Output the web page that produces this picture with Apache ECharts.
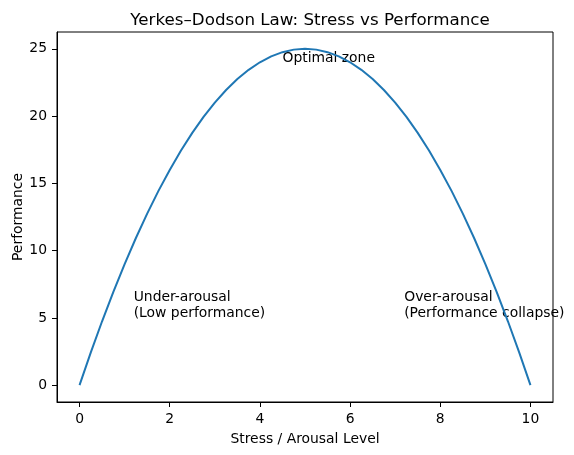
<!DOCTYPE html>
<html>
<head>
<meta charset="utf-8">
<script src="https://cdn.jsdelivr.net/npm/echarts@6/dist/echarts.min.js"></script>
<style>
  html, body { margin: 0; padding: 0; background: #fff; }
  #chart { width: 574px; height: 455px; }
</style>
</head>
<body>
<div id="chart"></div>
<script>
// stress / arousal level
var stress = [0, 0.25, 0.5, 0.75, 1, 1.25, 1.5, 1.75, 2, 2.25, 2.5, 2.75, 3, 3.25, 3.5, 3.75, 4, 4.25, 4.5, 4.75,
    5, 5.25, 5.5, 5.75, 6, 6.25, 6.5, 6.75, 7, 7.25, 7.5, 7.75, 8, 8.25, 8.5, 8.75, 9, 9.25, 9.5, 9.75, 10];
// performance
var performance = [0, 2.44, 4.75, 6.94, 9, 10.94, 12.75, 14.44, 16, 17.44, 18.75, 19.94, 21, 21.94, 22.75, 23.44, 24, 24.44, 24.75, 24.94,
    25, 24.94, 24.75, 24.44, 24, 23.44, 22.75, 21.94, 21, 19.94, 18.75, 17.44, 16, 14.44, 12.75, 10.94, 9, 6.94, 4.75, 2.44, 0];
var xTicks = [0, 2, 4, 6, 8, 10];
var yTicks = [0, 5, 10, 15, 20, 25];
// text notes
var noteX = [4.5, 1.2, 7.2];
var noteY = [24, 5, 5];
var noteText = ['Optimal zone', 'Under-arousal\n(Low performance)', 'Over-arousal\n(Performance collapse)'];

var font = 'DejaVu Sans';
var chart = echarts.init(document.getElementById('chart'));

var curve = [];
for (var i = 0; i < stress.length; i++) {
    curve.push([stress[i], performance[i]]);
}
var notes = [];
for (var j = 0; j < noteX.length; j++) {
    notes.push({ value: [noteX[j], noteY[j]], name: noteText[j] });
}

var option = {
    animation: false,
    backgroundColor: '#fff',
    title: {
        text: 'Yerkes\u2013Dodson Law: Stress vs Performance',
        left: 305,
        textAlign: 'center',
        top: 7,
        textStyle: { fontFamily: font, fontSize: 16.7, fontWeight: 'normal', color: '#000' }
    },
    grid: {
        left: 57, right: 21, top: 32, bottom: 53,
        outerBoundsMode: 'none',
        containLabel: false,
        show: true, borderColor: '#000', borderWidth: 1
    },
    xAxis: {
        type: 'value',
        min: -0.5, max: 10.5,
        name: 'Stress / Arousal Level',
        nameLocation: 'middle',
        nameGap: 30,
        nameMoveOverlap: false,
        nameTextStyle: { fontFamily: font, fontSize: 13.9, color: '#000' },
        axisLine: { show: true, onZero: false, lineStyle: { color: '#000', width: 1 } },
        axisTick: { show: true, length: 5, customValues: xTicks, lineStyle: { color: '#000' } },
        axisLabel: { customValues: xTicks, margin: 10, fontFamily: font, fontSize: 13.9, color: '#000' },
        splitLine: { show: false }
    },
    yAxis: {
        type: 'value',
        min: -1.25, max: 26.25,
        name: 'Performance',
        nameLocation: 'middle',
        nameGap: 32,
        nameMoveOverlap: false,
        nameTextStyle: { fontFamily: font, fontSize: 13.9, color: '#000' },
        axisLine: { show: true, onZero: false, lineStyle: { color: '#000', width: 1 } },
        axisTick: { show: true, length: 5, customValues: yTicks, lineStyle: { color: '#000' } },
        axisLabel: { customValues: yTicks, margin: 10, fontFamily: font, fontSize: 13.9, color: '#000' },
        splitLine: { show: false }
    },
    series: [
        {
            type: 'line',
            data: curve,
            showSymbol: false,
            lineStyle: { color: '#1f77b4', width: 2 },
            itemStyle: { color: '#1f77b4' }
        },
        {
            type: 'scatter',
            data: notes,
            symbolSize: 0,
            silent: true,
            itemStyle: { opacity: 1 },
            label: {
                show: true,
                position: [0, 0],
                align: 'left',
                verticalAlign: 'bottom',
                offset: [0, 4],
                lineHeight: 16.5,
                formatter: function (p) { return p.name; },
                fontFamily: font,
                fontSize: 13.9,
                color: '#000',
                textBorderWidth: 0
            }
        }
    ]
};
chart.setOption(option);
window.onresize = chart.resize;
</script>
</body>
</html>
